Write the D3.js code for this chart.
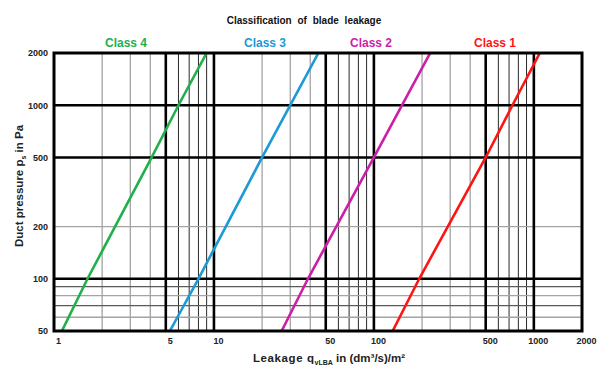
<!DOCTYPE html>
<html>
<head>
<meta charset="utf-8">
<script src="https://cdn.jsdelivr.net/npm/d3@7"></script>
<style>
  html, body { margin: 0; padding: 0; background: #ffffff; }
  svg { display: block; font-family: "Liberation Sans", Arial, sans-serif; }
</style>
</head>
<body>
<svg id="chart" width="605" height="378"></svg>
<script>
// ---- data ----
const pressures = [50, 100, 500, 1000, 2000];            // Pa
const class4 = [1.12, 1.62, 4.08, 6.0, 9.0];             // (dm³/s)/m²
const class3 = [5.3, 8.0, 20.0, 30.0, 45.0];
const class2 = [26.5, 38.7, 100, 150, 225];
const class1 = [131, 192, 500, 735, 1090];
const classNames = ["Class 4", "Class 3", "Class 2", "Class 1"];
const classColors = ["#1fb04c", "#1b9ad6", "#cc1ea8", "#ff1414"];
const xTickLabels = [1, 5, 10, 50, 100, 500, 1000, 2000];
const yTickLabels = [50, 100, 200, 500, 1000, 2000];
const xMajorGrid = [5, 10, 50, 100, 500, 1000];
const xMinorLight = [2, 3, 4, 20, 30, 40, 200, 300, 400];
const xMinorDark = [6, 7, 8, 9, 60, 70, 80, 90, 600, 700, 800, 900];
const yMajorGrid = [100, 500, 1000];
const yMinorLight = [200, 80, 60];
const yMinorDark = [90, 70];

// ---- layout ----
const svg = d3.select("#chart");
const L = 54, R = 582, T = 53, B = 331;
const x = d3.scaleLog().domain([1, 2000]).range([L, R]);
const y = d3.scaleLog().domain([50, 2000]).range([B, T]);

// title
svg.append("text")
  .attr("x", 304).attr("y", 24)
  .attr("text-anchor", "middle")
  .attr("font-size", 10).attr("font-weight", "bold")
  .attr("word-spacing", 3)
  .attr("fill", "#111")
  .text("Classification of blade leakage");

const g = svg.append("g");

// grid
function vlines(vals, color, w) {
  g.selectAll(null).data(vals).enter().append("line")
    .attr("x1", d => x(d)).attr("x2", d => x(d))
    .attr("y1", T).attr("y2", B)
    .attr("stroke", color).attr("stroke-width", w);
}
function hlines(vals, color, w) {
  g.selectAll(null).data(vals).enter().append("line")
    .attr("x1", L).attr("x2", R)
    .attr("y1", d => y(d)).attr("y2", d => y(d))
    .attr("stroke", color).attr("stroke-width", w);
}
vlines(xMinorLight, "#a3a3a3", 1.3);
vlines(xMinorDark, "#2a2a2a", 1);
hlines(yMinorLight, "#a3a3a3", 1.3);
hlines(yMinorDark, "#5a5a5a", 1.3);
vlines(xMajorGrid, "#000", 2.6);
hlines(yMajorGrid, "#000", 2.6);

// class lines
svg.append("clipPath").attr("id", "clip")
  .append("rect").attr("x", L).attr("y", T).attr("width", R - L).attr("height", B - T);
const series = [class4, class3, class2, class1];
const line = d3.line().x(d => x(d[0])).y(d => y(d[1]));
series.forEach((vals, i) => {
  const pts = vals.map((q, j) => [q, pressures[j]]);
  g.append("path")
    .attr("d", line(pts))
    .attr("fill", "none")
    .attr("stroke", classColors[i])
    .attr("stroke-width", 2.6)
    .attr("clip-path", "url(#clip)");
});

// frame
g.append("rect")
  .attr("x", L).attr("y", T).attr("width", R - L).attr("height", B - T)
  .attr("fill", "none").attr("stroke", "#000").attr("stroke-width", 3);

// class labels
const labelPos = [126, 265, 371, 495];
classNames.forEach((n, i) => {
  svg.append("text")
    .attr("x", labelPos[i]).attr("y", 47)
    .attr("text-anchor", "middle")
    .attr("font-size", 12).attr("font-weight", "bold")
    .attr("fill", classColors[i])
    .text(n);
});

// axes
const xAxis = svg.append("g")
  .attr("transform", `translate(0,${B})`)
  .call(d3.axisBottom(x).tickValues(xTickLabels).tickSize(0).tickPadding(7)
        .tickFormat(d3.format("d")));
xAxis.select(".domain").remove();
xAxis.selectAll("text")
  .attr("dx", 4)
  .attr("font-size", 9).attr("font-weight", "bold")
  .attr("font-family", "Liberation Sans, Arial, sans-serif")
  .attr("fill", "#222");

const yAxis = svg.append("g")
  .attr("transform", `translate(${L},0)`)
  .call(d3.axisLeft(y).tickValues(yTickLabels).tickSize(0).tickPadding(6)
        .tickFormat(d3.format("d")));
yAxis.select(".domain").remove();
yAxis.selectAll("text")
  .attr("font-size", 9).attr("font-weight", "bold")
  .attr("font-family", "Liberation Sans, Arial, sans-serif")
  .attr("fill", "#222");

// x axis title
const xt = svg.append("text")
  .attr("x", 329).attr("y", 362)
  .attr("text-anchor", "middle")
  .attr("font-size", 11.5).attr("font-weight", "bold")
  .attr("fill", "#222");
xt.append("tspan").attr("letter-spacing", 0.6).text("Leakage q");
xt.append("tspan").attr("font-size", 7).attr("dy", 2.5).text("vLBA");
xt.append("tspan").attr("dy", -2.5).text(" in (dm³/s)/m²");

// y axis title
const yt = svg.append("text")
  .attr("transform", `translate(23,${(T + B) / 2 - 6}) rotate(-90)`)
  .attr("text-anchor", "middle")
  .attr("font-size", 11.5).attr("font-weight", "bold")
  .attr("fill", "#222");
yt.append("tspan").text("Duct pressure p");
yt.append("tspan").attr("font-size", 7).attr("dy", 2.5).text("s");
yt.append("tspan").attr("dy", -2.5).text(" in Pa");
</script>
</body>
</html>
